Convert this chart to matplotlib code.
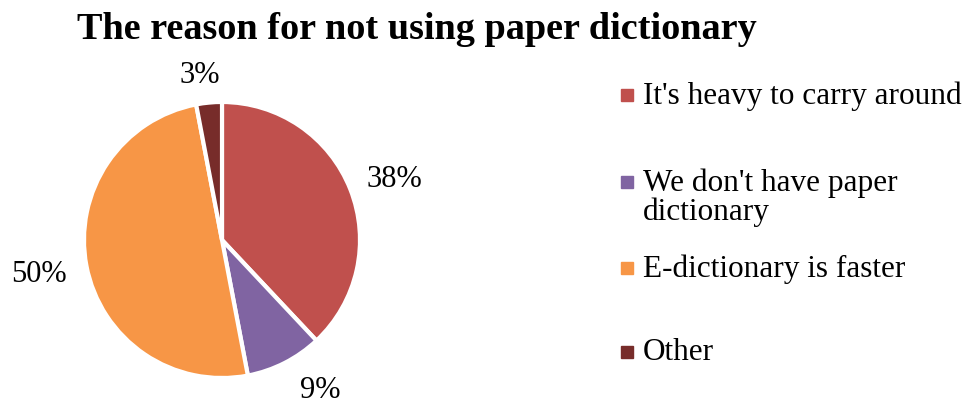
import matplotlib.pyplot as plt
from matplotlib.patches import Rectangle

# данные
labels = ["It's heavy to carry around", "We don't have paper\ndictionary",
          "E-dictionary is faster", "Other"]
shares = [38, 9, 50, 3]
colors = ['#C0504D', '#8064A2', '#F79646', '#772C2A']

plt.rcParams['font.family'] = ['Liberation Serif', 'DejaVu Serif']

fig = plt.figure(figsize=(9.74, 4.08), dpi=100)

# оси под круг: центр (222, 240) px, радиус 138 px
W, H = 974, 408
cx, cy, r = 222, 240, 138
ax = fig.add_axes([(cx - r) / W, (H - cy - r) / H, 2 * r / W, 2 * r / H])

wedges, texts, autotexts = ax.pie(
    shares, colors=colors, startangle=90, counterclock=False,
    autopct='%d%%', pctdistance=1.32,
    wedgeprops={'edgecolor': 'white', 'linewidth': 3},
    textprops={'fontsize': 22, 'color': 'black'})
# подписи подвинуты как в оригинале
autotexts[0].set_position((1.25, 0.44))
autotexts[1].set_position((0.71, -1.09))
autotexts[2].set_position((-1.33, -0.25))
autotexts[3].set_position((-0.16, 1.19))
ax.set_xlim(-1, 1)
ax.set_ylim(-1, 1)

fig.text(0.428, 0.928, 'The reason for not using paper dictionary',
         ha='center', va='center', fontsize=27.5, fontweight='bold')

# легенда вручную (строки в пикселях сверху)
rows_y = [95, 182, 268, 352]
for lab, col, yy in zip(labels, colors, rows_y):
    yf = 1 - yy / H
    fig.patches.append(Rectangle((621 / W, yf - 6 / H), 12 / W, 12 / H,
                                 transform=fig.transFigure, color=col))
    fig.text(643 / W, yf + 14 / H, lab, ha='left', va='top',
             fontsize=22.5, linespacing=1.0)

fig.savefig('out.png', dpi=100)
